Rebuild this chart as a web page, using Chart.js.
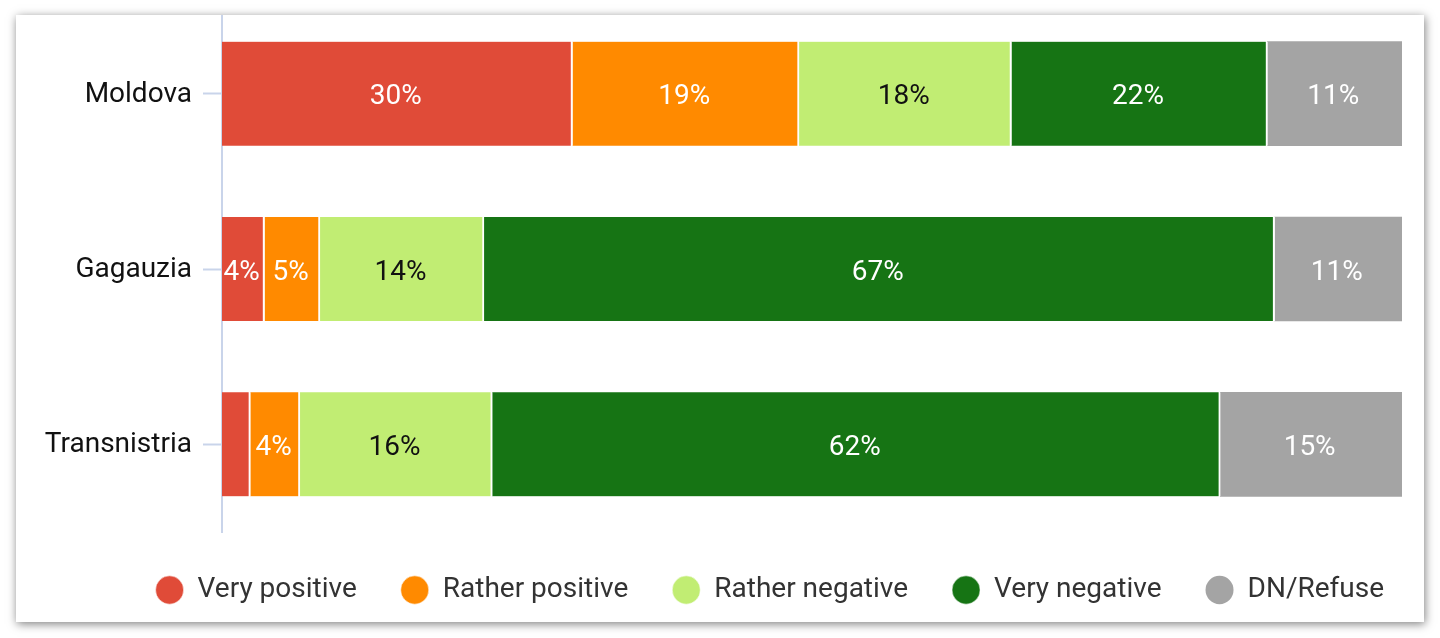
<!DOCTYPE html>
<html>
<head>
<meta charset="utf-8">
<script src="https://cdn.jsdelivr.net/npm/chart.js@4/dist/chart.umd.min.js"></script>
<style>
  html, body { margin: 0; padding: 0; background: #ffffff; width: 1440px; height: 638px; overflow: hidden; }
  #card { position: absolute; left: 16px; top: 15px; width: 1408px; height: 607px; background: #fff;
          box-shadow: 1px 2px 9px rgba(0,0,0,0.5); overflow: hidden; }
  #wrap { position: absolute; left: 0; top: -15px; width: 1408px; height: 622px; }
</style>
</head>
<body>
<div id="card"><div id="wrap"><canvas id="c" width="1408" height="622"></canvas></div></div>
<script>
const categories = ['Moldova', 'Gagauzia', 'Transnistria'];
const seriesNames = ['Very positive', 'Rather positive', 'Rather negative', 'Very negative', 'DN/Refuse'];
const veryPositive   = [29.7, 3.6, 2.4];
const ratherPositive = [19.2, 4.7, 4.2];
const ratherNegative = [18.0, 13.9, 16.3];
const veryNegative   = [21.7, 67.0, 61.7];
const dnRefuse       = [11.4, 10.8, 15.4];
const seriesValues = [veryPositive, ratherPositive, ratherNegative, veryNegative, dnRefuse];
const colors = ['#E04B38', '#FF8A00', '#C1ED73', '#167414', '#A4A4A4'];
const labelColors = ['#ffffff', '#ffffff', '#111111', '#ffffff', '#ffffff'];

const FONT = 'Roboto';

const datasets = seriesNames.map((name, i) => ({
  label: name,
  data: seriesValues[i],
  backgroundColor: colors[i],
  borderColor: '#ffffff',
  borderWidth: i < seriesNames.length - 1 ? {left: 0, right: 2, top: 0, bottom: 0} : 0,
  borderSkipped: false,
  barThickness: 104,
  yAxisID: 'y'
}));

const valueLabels = {
  id: 'valueLabels',
  afterDatasetsDraw(chart) {
    const ctx = chart.ctx;
    ctx.save();
    ctx.font = '28px ' + FONT;
    ctx.textAlign = 'center';
    ctx.textBaseline = 'middle';
    chart.data.datasets.forEach((ds, di) => {
      const meta = chart.getDatasetMeta(di);
      meta.data.forEach((bar, j) => {
        const v = ds.data[j];
        const txt = Math.round(v) + '%';
        const w = Math.abs(bar.x - bar.base);
        const tw = ctx.measureText(txt).width;
        if (tw + 4 > w) return;
        ctx.fillStyle = labelColors[di];
        ctx.fillText(txt, (bar.x + bar.base) / 2 - 1.5, bar.y + 3.5);
      });
    });
    ctx.restore();
  }
};

function noPad(s) { s.paddingTop = 0; s.paddingBottom = 0; }

new Chart(document.getElementById('c'), {
  type: 'bar',
  data: { labels: categories, datasets },
  options: {
    indexAxis: 'y',
    responsive: false,
    animation: false,
    layout: { padding: { left: 0, right: -4, top: 6, bottom: 8 } },
    scales: {
      x: {
        stacked: true, min: 0, max: 100, display: false
      },
      y: {
        stacked: true,
        position: 'left',
        afterFit(s) { s.width = 206; noPad(s); },
        grid: { display: true, offset: false, drawOnChartArea: false, drawTicks: true, tickLength: 19, color: '#C9D4EA', tickWidth: 2 },
        border: { display: true, color: '#C9D4EA', width: 2 },
        ticks: { color: '#111111', padding: 11, labelOffset: 1, font: { family: FONT, size: 28 } }
      },
      yR: {
        type: 'category',
        axis: 'y',
        position: 'right',
        display: true,
        afterFit(s) { s.width = 26; noPad(s); },
        grid: { display: false },
        border: { display: false },
        ticks: { display: false }
      }
    },
    plugins: {
      tooltip: { enabled: false },
      legend: {
        display: true,
        position: 'bottom',
        align: 'end',
        labels: {
          usePointStyle: true,
          pointStyle: 'circle',
          pointStyleWidth: 28,
          boxHeight: 20,
          padding: 44,
          color: '#333333',
          font: { family: FONT, size: 28 }
        }
      }
    }
  },
  plugins: [valueLabels]
});
</script>
</body>
</html>
